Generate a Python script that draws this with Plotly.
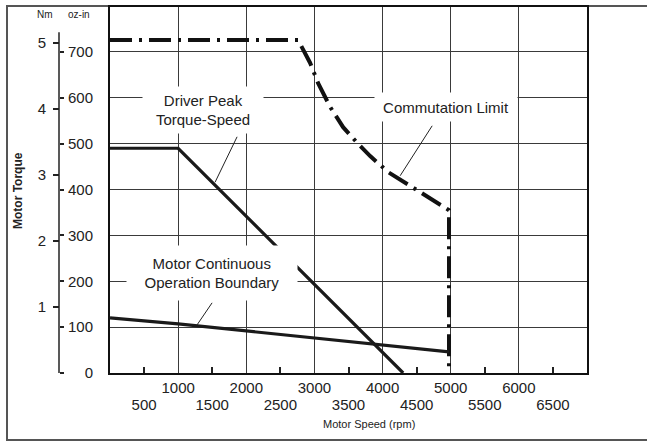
import plotly.graph_objects as go

# ---------------- data ----------------
comm_rpm = [0, 2760, 2937, 3054, 3231, 3421, 3627, 3818, 4082, 4449, 4728, 4975, 4975]
comm_ozin = [726, 726, 676, 632, 580, 536, 502, 473, 438, 403, 377, 355, 0]

peak_rpm = [0, 1000, 4302]
peak_ozin = [490, 490, 0]

cont_rpm = [0, 1000, 4975]
cont_ozin = [120, 107, 46]

x_major_ticks = [1000, 2000, 3000, 4000, 5000, 6000]
x_minor_ticks = [500, 1500, 2500, 3500, 4500, 5500, 6500]
ozin_ticks = [0, 100, 200, 300, 400, 500, 600, 700]
nm_ticks = [1, 2, 3, 4, 5]
grid_ozin = [100, 200, 300, 400, 500, 600, 700]

OZIN_PER_NM = 144.0
Y_TOP = 798
X_MAX = 7000

FONT = "Liberation Sans, Arial, Helvetica, sans-serif"
TXT = "#222222"
GRID = "#3a3a3a"
FS = 15

W, H = 647, 441
ML, MR, MT, MB = 40, 60, 7, 68
PW = W - ML - MR
PH = H - MT - MB


def px_x(px):
    return (px - ML) / PW


def px_y(py):
    return (H - MB - py) / PH


fig = go.Figure()

fig.add_trace(go.Scatter(x=comm_rpm, y=comm_ozin, mode="lines",
                         line=dict(color="#111111", width=4, dash="22px,7px,3px,7px"),
                         hoverinfo="skip", showlegend=False))
fig.add_trace(go.Scatter(x=peak_rpm, y=peak_ozin, mode="lines",
                         line=dict(color="#1a1a1a", width=3.2),
                         hoverinfo="skip", showlegend=False))
fig.add_trace(go.Scatter(x=cont_rpm, y=cont_ozin, mode="lines",
                         line=dict(color="#1a1a1a", width=3.2),
                         hoverinfo="skip", showlegend=False))

x0dom = px_x(110)
axpos = px_x(59)

fig.update_layout(
    width=W, height=H,
    margin=dict(l=ML, r=MR, t=MT, b=MB, autoexpand=False),
    paper_bgcolor="white", plot_bgcolor="white",
    showlegend=False,
    font=dict(family=FONT, color=TXT, size=FS),
    xaxis=dict(domain=[x0dom, 1], range=[0, X_MAX], tickmode="array",
               tickvals=x_major_ticks, ticktext=[str(v) for v in x_major_ticks],
               showgrid=True, gridcolor=GRID, gridwidth=1, zeroline=False,
               ticks="", showline=True, mirror=True, linecolor="#111111", linewidth=2,
               tickfont=dict(family=FONT, size=FS, color=TXT), ticklabelstandoff=0,
               automargin=False),
    xaxis2=dict(overlaying="x", anchor="y", side="bottom", range=[0, X_MAX],
                tickmode="array", tickvals=x_minor_ticks,
                ticktext=[str(v) for v in x_minor_ticks],
                showgrid=False, zeroline=False, ticks="inside", ticklen=6,
                tickwidth=1.5, tickcolor="#222222", showline=False,
                tickfont=dict(family=FONT, size=FS, color=TXT), ticklabelstandoff=21,
                automargin=False),
    yaxis=dict(domain=[0, 1], range=[0, Y_TOP], tickmode="array", tickvals=grid_ozin,
               showticklabels=False, showgrid=True, gridcolor=GRID, gridwidth=1,
               zeroline=False, ticks="", showline=True, mirror=True,
               linecolor="#111111", linewidth=2, automargin=False),
    yaxis2=dict(overlaying="y", anchor="free", position=axpos, side="right",
                range=[0, Y_TOP], tickmode="array", tickvals=ozin_ticks,
                ticktext=["\u2007\u20070"] + [str(v) for v in ozin_ticks[1:]],
                showgrid=False, zeroline=False, ticks="outside", ticklen=4,
                tickwidth=1.5, tickcolor="#222222", showline=False,
                tickfont=dict(family=FONT, size=FS, color=TXT), ticklabelstandoff=1,
                automargin=False),
    yaxis3=dict(overlaying="y", anchor="free", position=axpos, side="left",
                range=[0, Y_TOP / OZIN_PER_NM], tickmode="array", tickvals=nm_ticks,
                ticktext=[str(v) for v in nm_ticks],
                showgrid=False, zeroline=False, ticks="outside", ticklen=6,
                tickwidth=1.5, tickcolor="#222222", showline=False,
                tickfont=dict(family=FONT, size=FS, color=TXT), ticklabelstandoff=4,
                automargin=False),
)

# invisible traces so the extra axes are drawn
fig.add_trace(go.Scatter(x=[None], y=[None], xaxis="x2", yaxis="y", showlegend=False, hoverinfo="skip"))
fig.add_trace(go.Scatter(x=[None], y=[None], xaxis="x", yaxis="y2", showlegend=False, hoverinfo="skip"))
fig.add_trace(go.Scatter(x=[None], y=[None], xaxis="x", yaxis="y3", showlegend=False, hoverinfo="skip"))

shapes = []
# left torque axis line (shorter than plot height)
shapes.append(dict(type="line", xref="paper", yref="y", x0=axpos, x1=axpos, y0=0, y1=743,
                   line=dict(color="#222222", width=1.5)))
# outer frame
shapes.append(dict(type="rect", xref="paper", yref="paper", x0=px_x(7), x1=px_x(700),
                   y0=px_y(440), y1=px_y(6), line=dict(color="#555555", width=2),
                   layer="below"))
# leader lines
leaders = [((1865, 515), (1542, 416)),
           ((4728, 539), (4258, 430)),
           ((1498, 153), (1278, 105))]
for (xa, ya), (xb, yb) in leaders:
    shapes.append(dict(type="line", xref="x", yref="y", x0=xa, y0=ya, x1=xb, y1=yb,
                       line=dict(color="#222222", width=1)))
fig.update_layout(shapes=shapes)

ann = []
ann.append(dict(x=1366, y=573, xref="x", yref="y", text="Driver Peak<br>Torque-Speed",
                showarrow=False, bgcolor="white", width=114, height=40, borderpad=3,
                font=dict(family=FONT, size=FS, color=TXT), align="center"))
ann.append(dict(x=4934, y=580, xref="x", yref="y", text="Commutation Limit",
                showarrow=False, bgcolor="white", width=136, height=22, borderpad=3,
                font=dict(family=FONT, size=FS, color=TXT), align="center"))
ann.append(dict(x=1498, y=218, xref="x", yref="y", text="Motor Continuous<br>Operation Boundary",
                showarrow=False, bgcolor="white", width=164, height=48, borderpad=3,
                font=dict(family=FONT, size=FS, color=TXT), align="center"))
ann.append(dict(x=px_x(369), y=px_y(424), xref="paper", yref="paper", text="Motor Speed (rpm)",
                xanchor="center", yanchor="middle",
                showarrow=False, font=dict(family=FONT, size=11, color=TXT)))
ann.append(dict(x=px_x(18), y=px_y(191), xref="paper", yref="paper", text="<b>Motor Torque</b>",
                xanchor="center", yanchor="middle",
                showarrow=False, textangle=-90, font=dict(family=FONT, size=12, color=TXT)))
ann.append(dict(x=px_x(45), y=px_y(14), xref="paper", yref="paper", text="Nm",
                xanchor="center", yanchor="middle",
                showarrow=False, font=dict(family=FONT, size=10, color=TXT)))
ann.append(dict(x=px_x(79), y=px_y(14), xref="paper", yref="paper", text="oz-in",
                xanchor="center", yanchor="middle",
                showarrow=False, font=dict(family=FONT, size=10, color=TXT)))
fig.update_layout(annotations=ann)

fig.write_html("out.html", post_script="document.body.style.margin='0';",
               config={"displayModeBar": False})
